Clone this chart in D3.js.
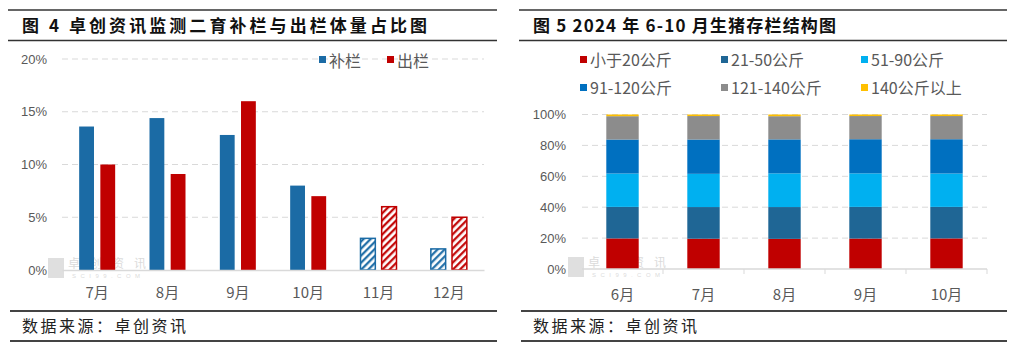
<!DOCTYPE html>
<html>
<head>
<meta charset="utf-8">
<script src="https://cdn.jsdelivr.net/npm/d3@7"></script>
<style>
	body { margin: 0; background: #fff; }
	text { font-family: "Liberation Sans", "Noto Sans CJK SC", sans-serif; }
	.cjk { font-family: "Noto Sans CJK SC", sans-serif; }
</style>
</head>
<body>
<div id="container"></div>
<script>
// left chart data
var months1 = ["7月", "8月", "9月", "10月", "11月", "12月"]
var series1 = ["补栏", "出栏"]
var restock = [13.6, 14.4, 12.8, 8.0, 3.0, 2.0]
var slaughter = [10.0, 9.1, 16.0, 7.0, 6.0, 5.0]
var forecastMonths = ["11月", "12月"]
var yTicks1 = [0, 5, 10, 15, 20]

// right chart data
var months2 = ["6月", "7月", "8月", "9月", "10月"]
var groups2 = ["小于20公斤", "21-50公斤", "51-90公斤", "91-120公斤", "121-140公斤", "140公斤以上"]
var under20 = [19.8, 19.6, 19.5, 19.7, 19.8]
var w21to50 = [20.4, 20.5, 20.6, 20.5, 20.4]
var w51to90 = [21.6, 21.5, 21.8, 21.7, 21.6]
var w91to120 = [22.0, 22.2, 22.0, 22.1, 22.2]
var w121to140 = [15.1, 15.2, 15.0, 15.0, 15.0]
var over140 = [1.1, 1.0, 1.1, 1.0, 1.0]
var yTicks2 = [0, 20, 40, 60, 80, 100]

var w = 1018
var h = 351
var blue = "#1B6BA5"
var red = "#C00000"
var colors2 = ["#C00000", "#1F6695", "#00B0F0", "#0070C0", "#8C8C8C", "#FFC000"]
var axisGray = "#595959"
var gridGray = "#D9D9D9"

var svg = d3.select("#container")
	.append("svg")
	.attr("width", w)
	.attr("height", h)

var defs = svg.append("defs")
function hatch(id, color) {
	var p = defs.append("pattern")
		.attr("id", id)
		.attr("patternUnits", "userSpaceOnUse")
		.attr("width", 5)
		.attr("height", 5)
		.attr("patternTransform", "rotate(45)")
	p.append("rect").attr("width", 5).attr("height", 5).attr("fill", "#fff")
	p.append("line")
		.attr("x1", 1.2).attr("y1", 0).attr("x2", 1.2).attr("y2", 5)
		.attr("stroke", color)
		.attr("stroke-width", 2.2)
}
hatch("hatchBlue", blue)
hatch("hatchRed", red)

// frame: title rules and footer
function frame(x0, x1, title, titleLen) {
	svg.append("line").attr("x1", x0).attr("x2", x1).attr("y1", 10).attr("y2", 10)
		.attr("stroke", "#333").attr("stroke-width", 1.5)
	svg.append("line").attr("x1", x0).attr("x2", x1).attr("y1", 40.5).attr("y2", 40.5)
		.attr("stroke", "#333").attr("stroke-width", 1.5)
	svg.append("text").attr("class", "cjk")
		.attr("x", x0 + 14).attr("y", 32)
		.attr("font-size", 17).attr("font-weight", "bold").attr("fill", "#111")
		.attr("textLength", titleLen).attr("lengthAdjust", "spacing")
		.text(title)
	svg.append("line").attr("x1", x0 + 2).attr("x2", x1).attr("y1", 311).attr("y2", 311)
		.attr("stroke", "#444").attr("stroke-width", 2)
	svg.append("line").attr("x1", x0 + 2).attr("x2", x1).attr("y1", 341).attr("y2", 341)
		.attr("stroke", "#444").attr("stroke-width", 2)
	svg.append("text").attr("class", "cjk")
		.attr("x", x0 + 14).attr("y", 332)
		.attr("font-size", 16).attr("fill", "#222")
		.attr("textLength", 164).attr("lengthAdjust", "spacing")
		.text("数据来源：卓创资讯")
}

// faint logo watermark
function watermark(x, y) {
	var g = svg.append("g").attr("opacity", 0.3)
	g.append("rect").attr("x", x).attr("y", y).attr("width", 16).attr("height", 20).attr("fill", "#999")
	g.append("text").attr("class", "cjk").attr("x", x + 20).attr("y", y + 10)
		.attr("font-size", 12).attr("fill", "#888")
		.attr("textLength", 78).attr("lengthAdjust", "spacing")
		.text("卓创资讯")
	g.append("text").attr("x", x + 24).attr("y", y + 20)
		.attr("font-size", 6).attr("font-family", "Liberation Serif").attr("fill", "#888")
		.attr("textLength", 68).attr("lengthAdjust", "spacing")
		.text("SCI99.COM")
}

frame(8, 497, "图 4  卓创资讯监测二育补栏与出栏体量占比图", 405)
frame(519, 1007, "图 5  2024 年 6-10 月生猪存栏结构图", 303)

// ---------- left chart ----------
var b1 = { left: 62, right: 484, top: 59, bottom: 270 }

var x0 = d3.scaleBand()
	.domain(months1)
	.range([b1.left, b1.right])

var x1 = d3.scaleBand()
	.domain(series1)
	.range([0, 36])
	.paddingInner(0.3)

var y1 = d3.scaleLinear()
	.domain([0, 20])
	.range([b1.bottom, b1.top])

watermark(48, 258)

// grid
svg.selectAll(".grid1")
	.data(yTicks1.filter(d => d > 0))
	.enter()
	.append("line").attr("class", "grid1")
	.attr("x1", b1.left).attr("x2", b1.right)
	.attr("y1", d => y1(d)).attr("y2", d => y1(d))
	.attr("stroke", gridGray).attr("stroke-dasharray", "6,4")

var yAxis1 = d3.axisLeft(y1).tickValues(yTicks1).tickSize(0).tickPadding(0).tickFormat(d => d + "%")
var gy1 = svg.append("g")
	.attr("transform", "translate(47,0)")
	.call(yAxis1)
gy1.select(".domain").remove()
gy1.selectAll("text").attr("font-size", 13).attr("fill", axisGray).attr("font-family", "Liberation Sans")

var rows1 = months1.map((m, i) => ({ month: m, values: [restock[i], slaughter[i]] }))

var groups = svg.selectAll(".month1")
	.data(rows1)
	.enter()
	.append("g").attr("class", "month1")
	.attr("transform", d => "translate(" + (x0(d.month) + x0.bandwidth() / 2 - 18) + ",0)")

groups.selectAll("rect")
	.data(d => d.values.map((v, j) => ({ month: d.month, key: series1[j], value: v })))
	.enter()
	.append("rect")
	.attr("x", d => x1(d.key))
	.attr("y", d => y1(d.value))
	.attr("width", x1.bandwidth())
	.attr("height", d => b1.bottom - y1(d.value))
	.attr("fill", d => {
		var f = forecastMonths.indexOf(d.month) >= 0
		if (d.key == "补栏") return f ? "url(#hatchBlue)" : blue
		return f ? "url(#hatchRed)" : red
	})
	.attr("stroke", d => forecastMonths.indexOf(d.month) >= 0 ? (d.key == "补栏" ? blue : red) : "none")
	.attr("stroke-width", 1.5)

// x axis
var xAxis1 = d3.axisBottom(x0).tickSize(0).tickPadding(17)
var gx1 = svg.append("g")
	.attr("transform", "translate(0," + b1.bottom + ")")
	.call(xAxis1)
gx1.select(".domain").attr("stroke", gridGray).attr("stroke-width", 1.5)
gx1.selectAll("text").attr("font-size", 15).attr("fill", axisGray).attr("class", "cjk")

// legend
var legend1 = svg.append("g").attr("transform", "translate(319,62)")
series1.forEach((s, i) => {
	var lg = legend1.append("g").attr("transform", "translate(" + (i * 68) + ",0)")
	lg.append("rect").attr("x", 0).attr("y", -6).attr("width", 7).attr("height", 7)
		.attr("fill", i == 0 ? blue : red)
	lg.append("text").attr("class", "cjk").attr("x", 10).attr("y", 5)
		.attr("font-size", 16).attr("fill", axisGray).text(s)
})

// ---------- right chart ----------
var b2 = { left: 582, right: 987, top: 114.5, bottom: 269 }

var xs = d3.scaleBand()
	.domain(months2)
	.range([b2.left, b2.right])
	.paddingInner(0.6)
	.paddingOuter(0.3)

var ys = d3.scaleLinear()
	.domain([0, 100])
	.range([b2.bottom, b2.top])

watermark(568, 257)

svg.selectAll(".grid2")
	.data(yTicks2.filter(d => d > 0))
	.enter()
	.append("line").attr("class", "grid2")
	.attr("x1", b2.left).attr("x2", b2.right)
	.attr("y1", d => ys(d)).attr("y2", d => ys(d))
	.attr("stroke", gridGray).attr("stroke-dasharray", "6,4")

var yAxis2 = d3.axisLeft(ys).tickValues(yTicks2).tickSize(0).tickPadding(0).tickFormat(d => d + "%")
var gy2 = svg.append("g")
	.attr("transform", "translate(566,0)")
	.call(yAxis2)
gy2.select(".domain").remove()
gy2.selectAll("text").attr("font-size", 13).attr("fill", axisGray).attr("font-family", "Liberation Sans")

var table2 = months2.map((m, i) => ({
	month: m,
	"小于20公斤": under20[i],
	"21-50公斤": w21to50[i],
	"51-90公斤": w51to90[i],
	"91-120公斤": w91to120[i],
	"121-140公斤": w121to140[i],
	"140公斤以上": over140[i]
}))

var stacked = d3.stack().keys(groups2)(table2)

svg.selectAll(".layer")
	.data(stacked)
	.enter()
	.append("g").attr("class", "layer")
	.attr("fill", (d, i) => colors2[i])
	.selectAll("rect")
	.data(d => d)
	.enter()
	.append("rect")
	.attr("x", d => xs(d.data.month))
	.attr("y", d => ys(d[1]))
	.attr("width", xs.bandwidth())
	.attr("height", d => ys(d[0]) - ys(d[1]))

// x axis with ticks at band boundaries
var gx2 = svg.append("g")
	.attr("transform", "translate(0," + b2.bottom + ")")
gx2.append("line").attr("x1", b2.left).attr("x2", b2.right)
	.attr("stroke", gridGray).attr("stroke-width", 1.5)
gx2.selectAll(".tk")
	.data(months2.map((m, i) => b2.left + xs.step() * (i + 1)))
	.enter()
	.append("line").attr("class", "tk")
	.attr("x1", d => d).attr("x2", d => d)
	.attr("y1", 0).attr("y2", 5)
	.attr("stroke", gridGray)
gx2.selectAll(".lbl")
	.data(months2)
	.enter()
	.append("text").attr("class", "cjk")
	.attr("x", d => xs(d) + xs.bandwidth() / 2)
	.attr("y", 31)
	.attr("text-anchor", "middle")
	.attr("font-size", 15).attr("fill", axisGray)
	.text(d => d)

// legend 3 x 2
var legend2 = svg.append("g")
groups2.forEach((s, i) => {
	var col = i % 3
	var row = Math.floor(i / 3)
	var lg = legend2.append("g")
		.attr("transform", "translate(" + [580, 721, 861][col] + "," + (60 + row * 28) + ")")
	lg.append("rect").attr("x", 0).attr("y", -4).attr("width", 7).attr("height", 7)
		.attr("fill", colors2[i])
	lg.append("text").attr("class", "cjk").attr("x", 10).attr("y", 6)
		.attr("font-size", 16).attr("fill", axisGray).text(s)
})
</script>
</body>
</html>
